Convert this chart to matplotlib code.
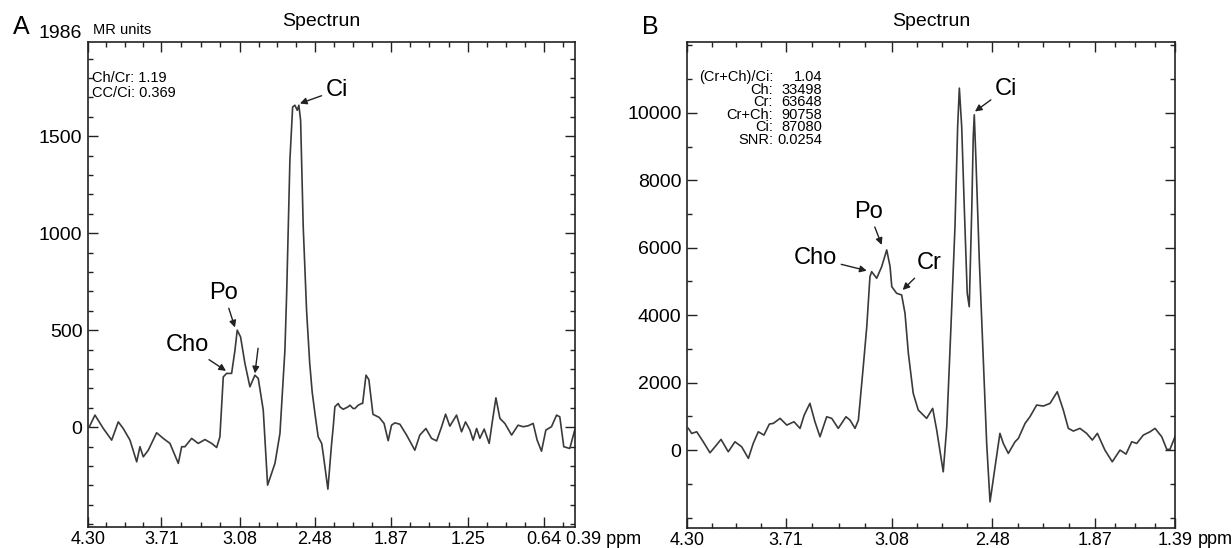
import numpy as np
import matplotlib
matplotlib.use("Agg")
import matplotlib.pyplot as plt

plt.rcParams['font.family'] = ['Liberation Sans', 'DejaVu Sans']

# panel A spectrum: chemical shift (ppm) and signal (MR units)
a_ppm = [4.29, 4.244, 4.177, 4.11, 4.057, 4.017, 3.963, 3.909, 3.883, 3.856, 3.816, 3.749,
         3.696, 3.642, 3.575, 3.548, 3.522, 3.468, 3.415, 3.361, 3.307, 3.267, 3.241, 3.214,
         3.187, 3.147, 3.12, 3.102, 3.075, 3.04, 3.0, 2.96, 2.933, 2.893, 2.858, 2.799, 2.759,
         2.719, 2.705, 2.679, 2.657, 2.639, 2.620, 2.607, 2.593, 2.572, 2.545, 2.52, 2.50,
         2.478, 2.452, 2.424, 2.412, 2.374, 2.344, 2.331, 2.318, 2.291, 2.278, 2.251, 2.211,
         2.197, 2.171, 2.157, 2.131, 2.103, 2.095, 2.068, 2.045, 2.012, 1.962, 1.923, 1.890,
         1.863, 1.836, 1.796, 1.742, 1.676, 1.636, 1.587, 1.542, 1.501, 1.461, 1.429, 1.395,
         1.341, 1.301, 1.269, 1.234, 1.208, 1.180, 1.154, 1.119, 1.079, 1.052, 1.025, 0.993,
         0.953, 0.899, 0.847, 0.806, 0.766, 0.726, 0.694, 0.659, 0.624, 0.579, 0.538, 0.512,
         0.480, 0.432, 0.392]
a_val = [1, 62, -7, -67, 27, -7, -67, -179, -101, -153, -119, -29,
         -58, -84, -187, -101, -101, -58, -84, -64, -84, -105, -50, 259,
         277, 277, 397, 500, 465, 328, 208, 268, 251, 88, -299, -187, -33,
         397, 689, 1376, 1651, 1660, 1634, 1660, 1582, 1032, 600, 330, 180,
         71, -50, -84, -136, -320, -84, 2, 105, 122, 105, 92, 105,
         113, 96, 96, 113, 122, 122, 268, 245, 66, 50, 19, -70,
         10, 22, 15, -41, -119, -41, -7, -58, -71, 2, 67, 5,
         62, -24, 27, -15, -67, -7, -58, -10, -84, 36, 151, 45,
         19, -41, 10, 2, 7, 19, -67, -124, -15, 2, 62, 53,
         -101, -110, -15]

# panel B spectrum
b_ppm = [4.292, 4.272, 4.242, 4.203, 4.163, 4.133, 4.097, 4.054, 4.014, 3.974, 3.934, 3.905,
         3.875, 3.841, 3.809, 3.785, 3.745, 3.705, 3.662, 3.626, 3.601, 3.567, 3.537, 3.507,
         3.467, 3.437, 3.398, 3.352, 3.328, 3.298, 3.278, 3.249, 3.228, 3.209, 3.199, 3.169,
         3.139, 3.109, 3.089, 3.079, 3.050, 3.020, 3.000, 2.980, 2.951, 2.921, 2.871, 2.835,
         2.811, 2.772, 2.751, 2.726, 2.702, 2.686, 2.676, 2.662, 2.646, 2.629, 2.617, 2.602,
         2.593, 2.587, 2.577, 2.557, 2.533, 2.513, 2.493, 2.463, 2.434, 2.414, 2.384, 2.344,
         2.324, 2.284, 2.255, 2.215, 2.175, 2.135, 2.092, 2.056, 2.026, 1.996, 1.957, 1.917,
         1.883, 1.853, 1.808, 1.764, 1.718, 1.682, 1.648, 1.618, 1.579, 1.539, 1.509, 1.469,
         1.439, 1.420, 1.390]
b_val = [644, 495, 543, 246, -80, 98, 317, -50, 246, 98, -246, 199,
         543, 445, 772, 792, 941, 742, 840, 644, 1039, 1386, 840, 395,
         988, 941, 644, 988, 890, 644, 890, 2472, 3659, 5142, 5291, 5095,
         5439, 5935, 5439, 4846, 4650, 4599, 4056, 2869, 1682, 1187, 941, 1237,
         593, -644, 691, 3659, 6626, 9594, 10733, 9594, 7122, 4650, 4252, 7122,
         9297, 9941, 8605, 5638, 2671, 199, -1534, -496, 496, 199, -98, 246,
         347, 792, 988, 1335, 1306, 1386, 1730, 1187, 644, 564, 644, 496,
         297, 496, 0, -347, 0, -119, 246, 199, 445, 543, 644, 395,
         21, 21, 395]

a_xticks = [4.30, 3.71, 3.08, 2.48, 1.87, 1.25, 0.64]
b_xticks = [4.30, 3.71, 3.08, 2.48, 1.87, 1.39]
a_yticks = [0, 500, 1000, 1500]
b_yticks = [0, 2000, 4000, 6000, 8000, 10000]

a_stats = ["Ch/Cr: 1.19", "CC/Ci: 0.369"]
b_stat_names = ["(Cr+Ch)/Ci:", "Ch:", "Cr:", "Cr+Ch:", "Ci:", "SNR:"]
b_stat_values = ["1.04", "33498", "63648", "90758", "87080", "0.0254"]

W, H = 1232, 548
fig = plt.figure(figsize=(W / 100, H / 100), dpi=100)


def fxy(px, py):
    return px / W, 1 - py / H


def minor_ticks(majors, end, step=0.1525):
    out = []
    for hi, lo in zip(majors[:-1], majors[1:]):
        out += list(np.linspace(hi, lo, 5)[1:-1])
    t = majors[-1] - step
    while t > end + 0.02:
        out.append(t)
        t -= step
    return out


def style_axes(ax, xticks, xlabels, xend, yticks, ystep):
    ax.set_xticks(xticks)
    ax.set_xticklabels(xlabels)
    ax.set_xticks(minor_ticks(xticks, xend), minor=True)
    ax.set_yticks(yticks)
    ax.set_yticklabels([str(v) for v in yticks])
    lo, hi = ax.get_ylim()
    ax.set_yticks(np.arange(np.ceil(lo / ystep) * ystep, hi, ystep), minor=True)
    ax.tick_params(which='both', direction='in', top=True, right=True,
                   color='#222222', width=1)
    ax.tick_params(which='major', length=7)
    ax.tick_params(which='minor', length=3.5)
    ax.tick_params(axis='x', labelsize=13, pad=3)
    ax.tick_params(axis='y', labelsize=14, pad=4)
    for s in ax.spines.values():
        s.set_color('#222222')
        s.set_linewidth(1.2)


arrow = dict(arrowstyle='-|>', color='#222222', lw=1, mutation_scale=10,
             shrinkA=1, shrinkB=0)

# ---- panel A
axA = fig.add_axes([88 / W, 1 - 527 / H, 487 / W, 485 / H])
axA.plot(a_ppm, a_val, color='#3a3a3a', lw=1.2)
axA.set_xlim(4.30, 0.39)
axA.set_ylim(-515, 1986)
style_axes(axA, a_xticks, ["%.2f" % v for v in a_xticks], 0.39, a_yticks, 100)

axA.annotate("Ci", xy=(2.599, 1669), xytext=(2.302, 1737), fontsize=17,
             ha='center', va='center', arrowprops=arrow)
axA.annotate("Po", xy=(3.120, 514), xytext=(3.209, 691), fontsize=17,
             ha='center', va='center', arrowprops=arrow)
axA.annotate("Cho", xy=(3.192, 290), xytext=(3.505, 423), fontsize=17,
             ha='center', va='center', arrowprops=arrow)
axA.annotate("", xy=(2.96, 277), xytext=(2.933, 414), arrowprops=arrow)

for i, s in enumerate(a_stats):
    fig.text(*fxy(92, 78 + 15 * i), s, fontsize=10.5, ha='left', va='center')

fig.text(*fxy(21, 27), "A", fontsize=18, ha='center', va='center')
fig.text(*fxy(82, 34), "1986", fontsize=14, ha='right', va='center')
fig.text(*fxy(93, 30), "MR units", fontsize=10.5, ha='left', va='center')
fig.text(*fxy(321, 22), "Spectrun", fontsize=14, ha='center', va='center')
fig.text(*fxy(566, 540), "0.39 ppm", fontsize=13, ha='left', va='center')

# ---- panel B
axB = fig.add_axes([687 / W, 1 - 528 / H, 488 / W, 486 / H])
axB.plot(b_ppm, b_val, color='#3a3a3a', lw=1.2)
axB.set_xlim(4.30, 1.39)
axB.set_ylim(-2310, 12100)
style_axes(axB, b_xticks, ["%.2f" % v for v in b_xticks], 1.39, b_yticks, 1000)

axB.annotate("Ci", xy=(2.583, 10039), xytext=(2.398, 10712), fontsize=17,
             ha='center', va='center', arrowprops=arrow)
axB.annotate("Po", xy=(3.139, 6083), xytext=(3.215, 7062), fontsize=17,
             ha='center', va='center', arrowprops=arrow)
axB.annotate("Cho", xy=(3.228, 5320), xytext=(3.534, 5697), fontsize=17,
             ha='center', va='center', arrowprops=arrow)
axB.annotate("Cr", xy=(3.014, 4748), xytext=(2.854, 5534), fontsize=17,
             ha='center', va='center', arrowprops=arrow)

for i, (n, v) in enumerate(zip(b_stat_names, b_stat_values)):
    fig.text(*fxy(773, 77 + 12.6 * i), n, fontsize=10.5, ha='right', va='center')
    fig.text(*fxy(822, 77 + 12.6 * i), v, fontsize=10.5, ha='right', va='center')

fig.text(*fxy(650, 27), "B", fontsize=18, ha='center', va='center')
fig.text(*fxy(931, 22), "Spectrun", fontsize=14, ha='center', va='center')
fig.text(*fxy(1198, 540), "ppm", fontsize=13, ha='left', va='center')

# hide the 0.39 end label of panel A (drawn as text with the unit)
fig.savefig("out.png", dpi=100)
